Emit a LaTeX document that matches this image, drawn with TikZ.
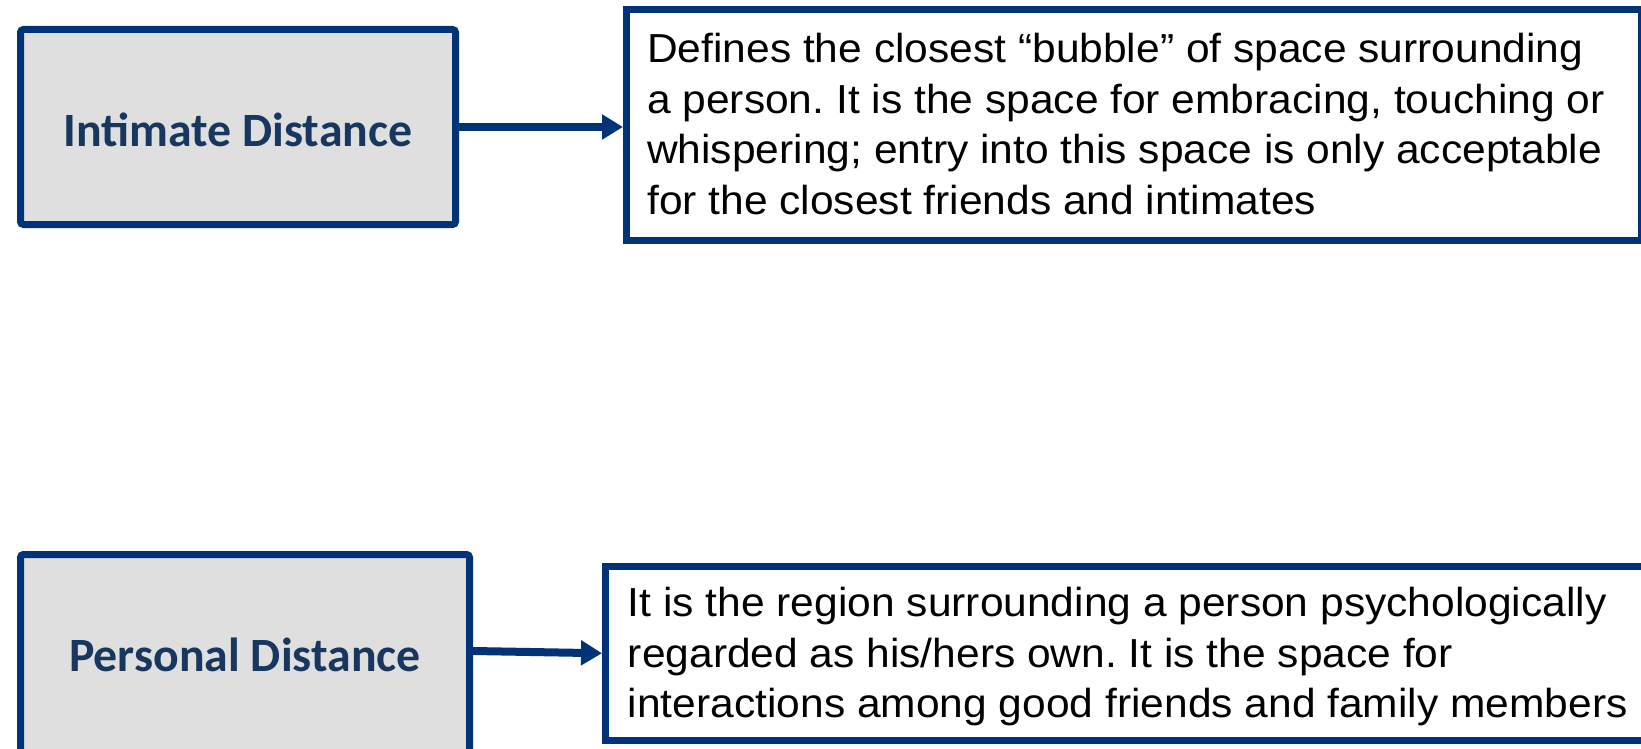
\documentclass[tikz,border=0pt]{standalone}
\usepackage{fontspec}
\usetikzlibrary{arrows.meta,calc}
\newfontfamily\labelfont{Carlito}
\newfontfamily\bodyfont[FakeStretch=1.05]{Liberation Sans}
\definecolor{navy}{RGB}{0,51,119}
\definecolor{labelnavy}{RGB}{23,55,94}
\definecolor{boxgray}{RGB}{223,223,223}
\frenchspacing
\tikzset{
  termbox/.style={draw=navy, line width=7pt, fill=boxgray, rounded corners=3pt,
    font=\labelfont\bfseries\fontsize{47.8pt}{52pt}\selectfont, text=labelnavy, inner sep=0pt},
  descbox/.style={draw=navy, line width=7pt, fill=white, inner sep=0pt},
  desctext/.style={anchor=north west, inner sep=0pt, align=left,
    font=\bodyfont\fontsize{40.5pt}{50.5pt}\selectfont\frenchspacing, text=black},
  linkarrow/.style={draw=navy, line width=8pt, -{Triangle[length=21pt,width=24pt]}}
}
\begin{document}
\begin{tikzpicture}[x=1pt,y=-1pt]
\useasboundingbox (0,0) rectangle (1641,749);
\clip (0,0) rectangle (1641,749);
\fill[white] (0,0) rectangle (1641,749);
% left term boxes
\node[termbox, minimum width=435pt, minimum height=195pt, text height=40pt] (b1) at (238,127) {Intimate Distance};
\node[termbox, minimum width=449pt, minimum height=201pt, text height=34pt] (b3) at (245,655) {Personal Distance};
% description boxes
\node[descbox, minimum width=1015pt, minimum height=231pt] (b2) at (1134,125) {};
\node[descbox, minimum width=1059.5pt, minimum height=174.5pt] (b4) at (1135.25,653.25) {};
% texts
\node[desctext] (t2) at (647,33.3) {Defines the closest “bubble” of space surrounding\\a person. It is the space for embracing, touching or\\whispering; entry into this space is only acceptable\\for the closest friends and intimates};
\node[desctext] (t4) at (627.7,587.3) {It is the region surrounding a person psychologically\\regarded as his/hers own. It is the space for\\interactions among good friends and family members};
% arrows
\draw[linkarrow] (b1.east) -- (b1.east -| b2.west);
\draw[linkarrow] ([yshift=4pt]b3.east) -- (b4.west);
\end{tikzpicture}
\end{document}
